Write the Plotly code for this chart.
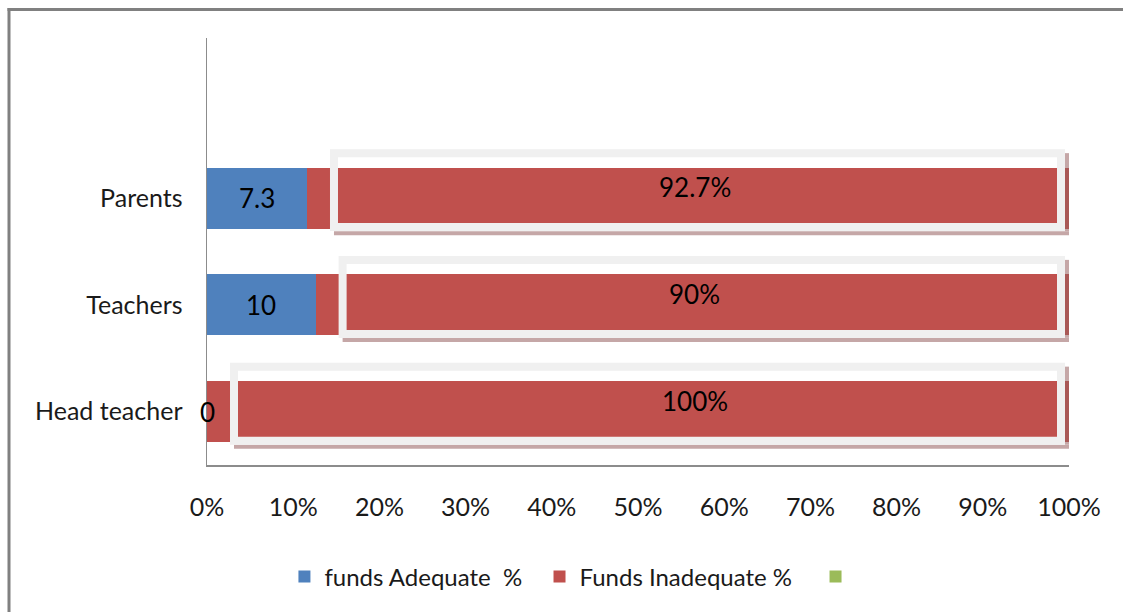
import plotly.graph_objects as go

# ---- data ----
categories = ["Head teacher", "Teachers", "Parents"]
adequate_pct = [0.0, 12.6, 11.6]        # blue segment widths as drawn
inadequate_pct = [100.0, 87.4, 88.4]    # red segment widths as drawn
third_series = [0.0, 0.0, 0.0]          # green (empty) series
adequate_labels = ["0", "10", "7.3"]
inadequate_labels = ["100%", "90%", "92.7%"]
x_ticks = [0, 10, 20, 30, 40, 50, 60, 70, 80, 90, 100]
x_tick_labels = [f"{v}%" for v in x_ticks]
legend_names = ["funds Adequate\u00a0 %\u00a0\u00a0", "Funds Inadequate %\u00a0\u00a0\u00a0", " "]

# ---- styling ----
BLUE, RED, GREEN = "#4f81bd", "#c0504d", "#9bbb59"
FONT = "Lato, Carlito, Calibri, 'Open Sans', sans-serif"
TXT = "#1a1a1a"
W, H = 1123, 612
ML, MT = 207, 38
PW, PH = 862, 427
MR = W - ML - PW
MB = H - MT - PH
YR = (-0.5, 3.5)
XPX = 100.0 / PW                 # data units per pixel (x)
YPX = (YR[1] - YR[0]) / PH       # data units per pixel (y)

fig = go.Figure()
fig.add_trace(go.Bar(y=categories, x=adequate_pct, orientation="h", name=legend_names[0],
                     marker=dict(color=BLUE, line=dict(width=0)), width=0.57, hoverinfo="skip"))
fig.add_trace(go.Bar(y=categories, x=inadequate_pct, orientation="h", name=legend_names[1],
                     marker=dict(color=RED, line=dict(width=0)), width=0.57, hoverinfo="skip"))
fig.add_trace(go.Bar(y=categories, x=third_series, orientation="h", name=legend_names[2],
                     marker=dict(color=GREEN, line=dict(width=0)), width=0.57, hoverinfo="skip"))

shapes = []
annotations = []
BOX_DY = 8 * YPX          # box centre sits a little above bar centre
BOX_HH = 37 * YPX         # half height (to border centre-line)
BORDER = 8
for i, cat in enumerate(categories):
    yc = i + BOX_DY
    yb, yt = yc - BOX_HH, yc + BOX_HH
    x0 = adequate_pct[i] + 27 * XPX
    x1 = adequate_pct[i] + inadequate_pct[i] - 8 * XPX
    sh = "rgba(150,95,95,0.55)"
    # shadow strips (bottom and right)
    shapes.append(dict(type="rect", xref="x", yref="y", x0=x0, x1=x1 + 8 * XPX,
                       y0=yb - 8 * YPX, y1=yb - 4 * YPX, fillcolor=sh, line=dict(width=0)))
    shapes.append(dict(type="rect", xref="x", yref="y", x0=x1 + 4 * XPX, x1=x1 + 8 * XPX,
                       y0=yb - 4 * YPX, y1=yt, fillcolor=sh, line=dict(width=0)))
    # label frame
    shapes.append(dict(type="rect", xref="x", yref="y", x0=x0, x1=x1, y0=yb, y1=yt,
                       fillcolor="rgba(0,0,0,0)", line=dict(color="#f0f0f0", width=BORDER)))
    annotations.append(dict(x=56.6, y=yc + 3 * YPX, xref="x", yref="y", text=inadequate_labels[i],
                            showarrow=False, font=dict(family=FONT, size=26, color="#000")))
    annotations.append(dict(x=adequate_pct[i] / 2, y=i, xref="x", yref="y", text=adequate_labels[i],
                            showarrow=False, font=dict(family=FONT, size=26, color="#000")))

# outer chart frame: only the top and left edges are inside the picture
fx0 = (9 - ML) / PW
fx1 = (W + 10 - ML) / PW
fy_top = (PH + MT - 9.5) / PH
fy_bot = -(H + 10 - MT - PH) / PH
shapes.append(dict(type="line", xref="paper", yref="paper", x0=fx0 - 1.5 / PW, x1=fx1,
                   y0=fy_top, y1=fy_top, line=dict(color="#808080", width=3)))
shapes.append(dict(type="line", xref="paper", yref="paper", x0=fx0, x1=fx0,
                   y0=fy_top + 1.5 / PH, y1=fy_bot, line=dict(color="#808080", width=3)))

fig.update_layout(
    barmode="stack",
    width=W, height=H,
    margin=dict(l=ML, r=MR, t=MT, b=MB, pad=0, autoexpand=False),
    paper_bgcolor="white", plot_bgcolor="white",
    font=dict(family=FONT, size=25, color=TXT),
    shapes=shapes, annotations=annotations,
    showlegend=True,
    legend=dict(orientation="h", x=0.428, xanchor="center", y=(PH - (577 - MT)) / PH,
                yanchor="middle", font=dict(family=FONT, size=24, color=TXT),
                traceorder="normal", itemclick=False, itemdoubleclick=False),
    xaxis=dict(range=[0, 100], tickmode="array", tickvals=x_ticks, ticktext=x_tick_labels,
               showgrid=False, zeroline=False,
               showline=True, linecolor="#8c8c8c", linewidth=1.5, ticks="",
               ticklabelstandoff=19, tickfont=dict(family=FONT, size=25, color=TXT), fixedrange=True),
    yaxis=dict(type="category", categoryorder="array", categoryarray=categories, range=list(YR),
               showgrid=False, zeroline=False, showline=True, linecolor="#8c8c8c", linewidth=1.5,
               ticks="", ticklabelstandoff=18, tickfont=dict(family=FONT, size=25, color=TXT),
               fixedrange=True),
)

fig.write_html(
    "out.html",
    config={"displayModeBar": False, "staticPlot": True},
    post_script=("document.documentElement.style.overflow='hidden';"
                 "document.body.style.margin='0';document.body.style.overflow='hidden';"),
)
